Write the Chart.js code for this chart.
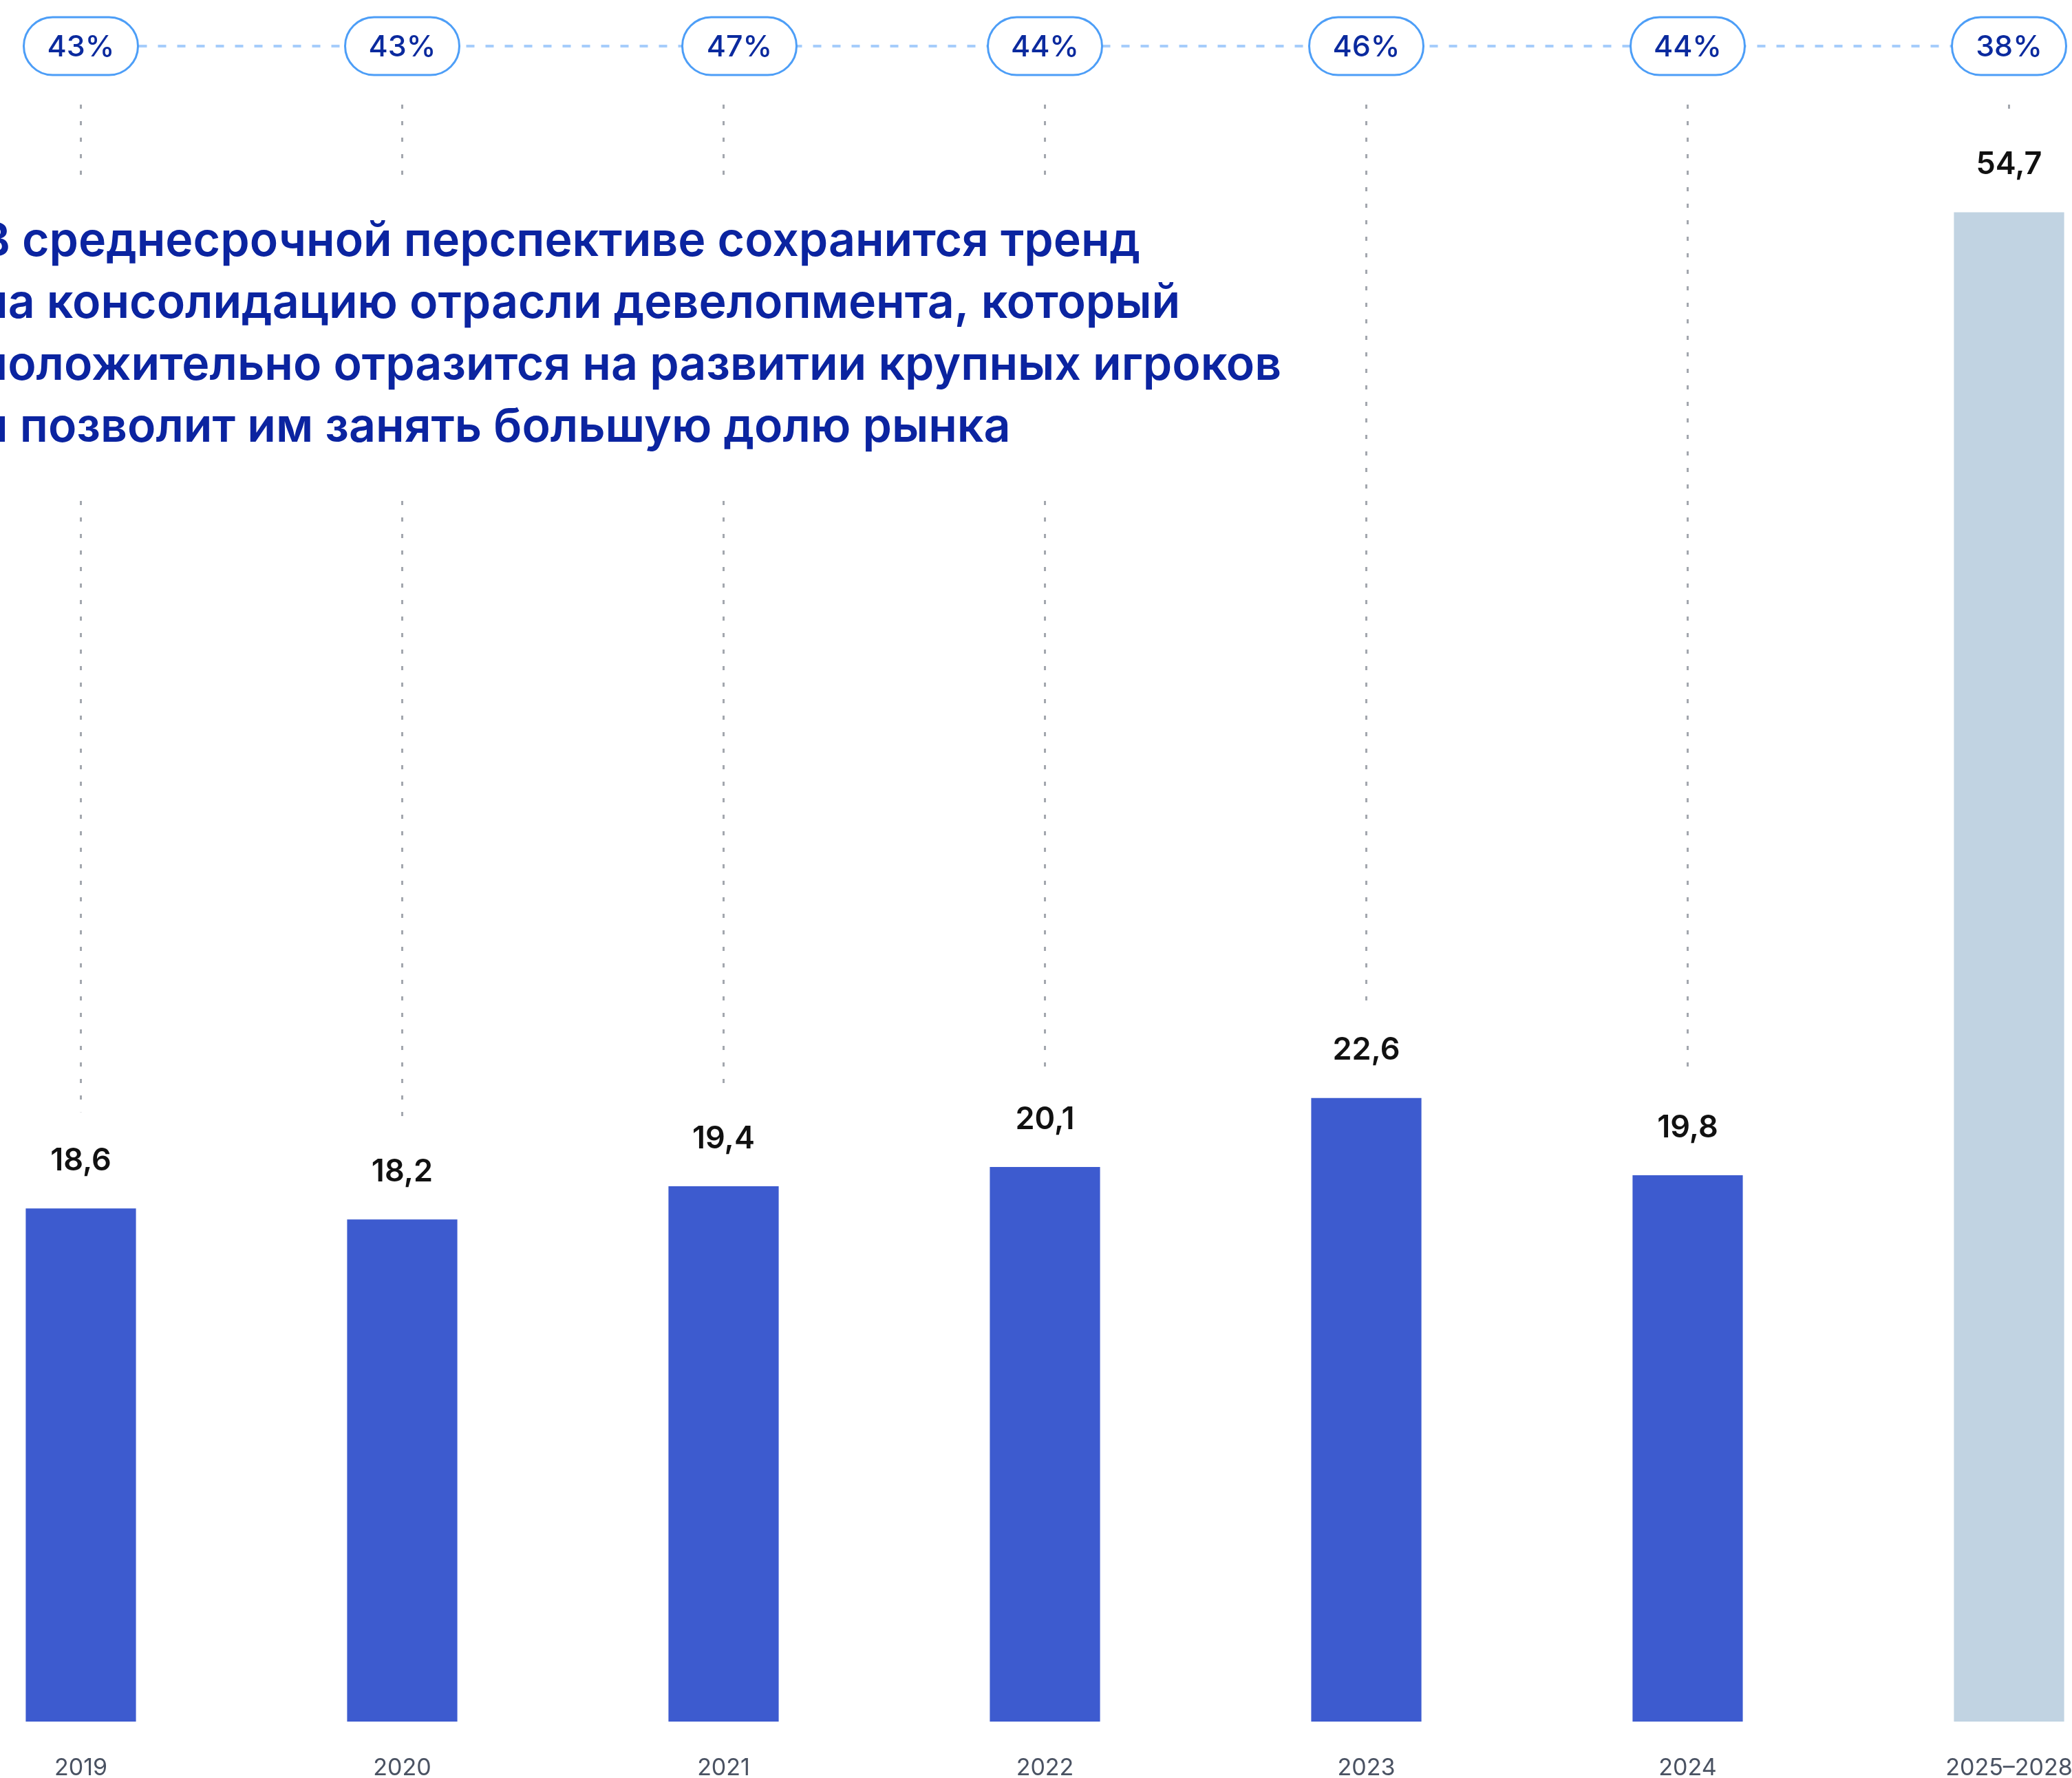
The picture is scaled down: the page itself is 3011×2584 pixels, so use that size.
<!DOCTYPE html>
<html>
<head>
<meta charset="utf-8">
<script src="https://cdn.jsdelivr.net/npm/chart.js@4.4.1/dist/chart.umd.min.js"></script>
<style>
  html, body { margin: 0; padding: 0; background: #fff; }
  #frame { position: relative; width: 3011px; height: 2584px; overflow: hidden; }
  #chart { position: absolute; left: -116px; top: 0; }
</style>
</head>
<body>
<div id="frame"><canvas id="chart" width="3269" height="2584"></canvas></div>
<script>
// ---------------- Data ---------------------------------------------------
var years   = [ '2019', '2020', '2021', '2022', '2023', '2024', '2025–2028' ] ;
var volumes = [ 18.6, 18.2, 19.4, 20.1, 22.6, 19.8, 54.7 ] ;
var shares  = [ 43, 43, 47, 44, 46, 44, 38 ] ;

var headline = [
    'В среднесрочной перспективе сохранится тренд',
    'на консолидацию отрасли девелопмента, который',
    'положительно отразится на развитии крупных игроков',
    'и позволит им занять большую долю рынка'
] ;

// ---------------- Styles -------------------------------------------------
var FONT       = 'Inter, "Noto Sans", sans-serif' ;
var SHIFT      = 116 ;          // canvas starts left of the visible frame
var BAR_BLUE   = '#3d5bcf' ;
var BAR_FUTURE = '#c1d3e2' ;
var PILL_NUDGE = { 2 : 23 } ;   // the 2021 pill sits a little right of its bar

function fmt( v ) {
    return v.toFixed( 1 ).replace( '.', ',' ) ;
}

// ---------------- Overlay plugin -----------------------------------------
var overlay = {
    id : 'overlay',

    beforeDatasetsDraw : function( chart ) {
        var ctx  = chart.ctx ;
        var bars = chart.getDatasetMeta( 0 ).data ;
        ctx.save() ;

        // vertical dotted guides from the pills down to each bar label
        ctx.strokeStyle = '#a3a7ae' ;
        ctx.lineWidth = 3 ;
        ctx.setLineDash( [ 6, 18 ] ) ;
        bars.forEach( function( bar ) {
            ctx.beginPath() ;
            ctx.moveTo( bar.x, 152 ) ;
            ctx.lineTo( bar.x, bar.y - 140 ) ;
            ctx.stroke() ;
        } ) ;

        // headline block sits on white, hiding the guides behind it
        ctx.setLineDash( [] ) ;
        ctx.fillStyle = '#ffffff' ;
        ctx.fillRect( 0, 264, SHIFT + 1880, 460 ) ;

        ctx.fillStyle = '#0b24a0' ;
        ctx.font = '600 68px ' + FONT ;
        ctx.textAlign = 'left' ;
        ctx.textBaseline = 'alphabetic' ;
        headline.forEach( function( line, i ) {
            ctx.fillText( line, SHIFT - 30, 372 + i * 90 ) ;
        } ) ;

        // dashed connector behind the share pills
        ctx.strokeStyle = '#a6cdfb' ;
        ctx.lineWidth = 4 ;
        ctx.setLineDash( [ 12, 16 ] ) ;
        ctx.beginPath() ;
        ctx.moveTo( bars[0].x, 67 ) ;
        ctx.lineTo( bars[ bars.length - 1 ].x, 67 ) ;
        ctx.stroke() ;

        // share pills
        ctx.setLineDash( [] ) ;
        ctx.lineWidth = 3 ;
        ctx.font = '500 43px ' + FONT ;
        ctx.textAlign = 'center' ;
        ctx.textBaseline = 'middle' ;
        bars.forEach( function( bar, i ) {
            var cx = bar.x + ( PILL_NUDGE[i] || 0 ) ;
            ctx.beginPath() ;
            ctx.roundRect( cx - 83, 25, 166, 84, 42 ) ;
            ctx.fillStyle = '#ffffff' ;
            ctx.fill() ;
            ctx.strokeStyle = '#4d9ef7' ;
            ctx.stroke() ;
            ctx.fillStyle = '#0b2a9e' ;
            ctx.fillText( shares[i] + '%', cx, 69 ) ;
        } ) ;

        ctx.restore() ;
    },

    afterDatasetsDraw : function( chart ) {
        var ctx  = chart.ctx ;
        var bars = chart.getDatasetMeta( 0 ).data ;
        ctx.save() ;
        ctx.textAlign = 'center' ;
        ctx.textBaseline = 'middle' ;

        bars.forEach( function( bar, i ) {
            ctx.font = '600 45px ' + FONT ;
            ctx.fillStyle = '#111111' ;
            ctx.fillText( fmt( volumes[i] ), bar.x, bar.y - 69 ) ;

            ctx.font = '400 34px ' + FONT ;
            ctx.fillStyle = '#4a5262' ;
            ctx.fillText( years[i], bar.x, 2570 ) ;
        } ) ;

        ctx.restore() ;
    }
} ;

// ---------------- Chart --------------------------------------------------
var canvas = document.getElementById( 'chart' ) ;
var chart = new Chart( canvas, {
    type : 'bar',
    data : {
        labels : years,
        datasets : [ {
            data : volumes,
            backgroundColor : years.map( function( y, i ) {
                return i === years.length - 1 ? BAR_FUTURE : BAR_BLUE ;
            } ),
            borderWidth : 0,
            categoryPercentage : 1,
            barPercentage : 0.343
        } ]
    },
    options : {
        responsive : false,
        devicePixelRatio : 1,
        animation : false,
        layout : { padding : { top : 96, bottom : 82, left : 0, right : 0 } },
        plugins : {
            legend  : { display : false },
            tooltip : { enabled : false }
        },
        scales : {
            x : { display : false },
            y : { display : false, min : 0, max : 60 }
        }
    },
    plugins : [ overlay ]
} ) ;
</script>
</body>
</html>
